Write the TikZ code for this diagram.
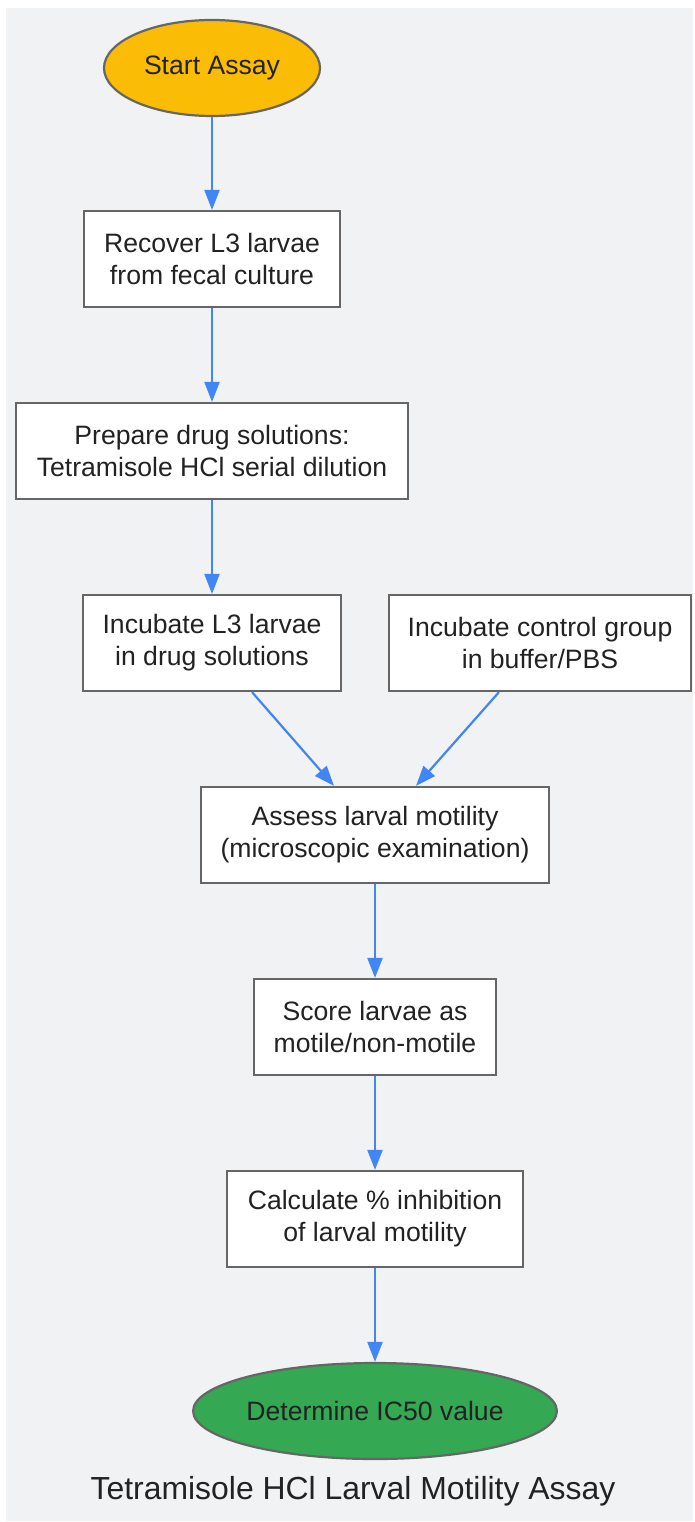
\documentclass[tikz,border=0pt]{standalone}
\usepackage{fontspec}
\setmainfont{Liberation Sans}
\usetikzlibrary{shapes.geometric,arrows.meta}
\definecolor{panelbg}{HTML}{F1F2F4}
\definecolor{edgegray}{HTML}{666666}
\definecolor{flowblue}{HTML}{4285F4}
\definecolor{startyellow}{HTML}{FBBC05}
\definecolor{endgreen}{HTML}{34A853}
\definecolor{inkdark}{HTML}{222222}
\tikzset{
  stepbox/.style={draw=edgegray, line width=2.2pt, fill=white, align=center,
    minimum height=96pt, inner sep=0pt, text=inkdark},
  termnode/.style={ellipse, draw=edgegray, line width=2.2pt, align=center,
    minimum height=96pt, inner sep=0pt, text=inkdark},
  flow/.style={draw=flowblue, line width=2.2pt, -{Triangle[length=20pt,width=15pt]}}
}
\begin{document}
\begin{tikzpicture}[x=1pt, y=-1pt, font=\fontsize{26.6}{32}\selectfont]
\useasboundingbox (0,0) rectangle (694,1522);
\fill[panelbg] (6,8) rectangle (693,1521);
%
\node[termnode, fill=startyellow, minimum width=216pt] (start) at (212,68) {Start Assay};
\node[stepbox, minimum width=256pt] (recover) at (212,259) {Recover L3 larvae\\from fecal culture};
\node[stepbox, minimum width=392pt] (prepare) at (212,451) {Prepare drug solutions:\\Tetramisole HCl serial dilution};
\node[stepbox, minimum width=258pt] (incdrug) at (212,643) {Incubate L3 larvae\\in drug solutions};
\node[stepbox, minimum width=302pt] (inctrl) at (540,643) {Incubate control group\\in buffer/PBS};
\node[stepbox, minimum width=348pt] (assess) at (375,835) {Assess larval motility\\(microscopic examination)};
\node[stepbox, minimum width=242pt] (score) at (375,1027) {Score larvae as\\motile/non-motile};
\node[stepbox, minimum width=296pt] (calc) at (375,1219) {Calculate \% inhibition\\of larval motility};
\node[termnode, fill=endgreen, minimum width=359pt] (ic50) at (375,1411) {Determine IC50 value};
\node[text=inkdark, font=\fontsize{31.9}{36}\selectfont] (title) at (353,1491) {Tetramisole HCl Larval Motility Assay};
%
\draw[flow] (start) -- (recover);
\draw[flow] (recover) -- (prepare);
\draw[flow] (prepare) -- (incdrug);
\draw[flow] ([xshift=40pt]incdrug.south) -- ([xshift=-41pt]assess.north);
\draw[flow] ([xshift=-41pt]inctrl.south) -- ([xshift=41pt]assess.north);
\draw[flow] (assess) -- (score);
\draw[flow] (score) -- (calc);
\draw[flow] (calc) -- (ic50);
\end{tikzpicture}
\end{document}
